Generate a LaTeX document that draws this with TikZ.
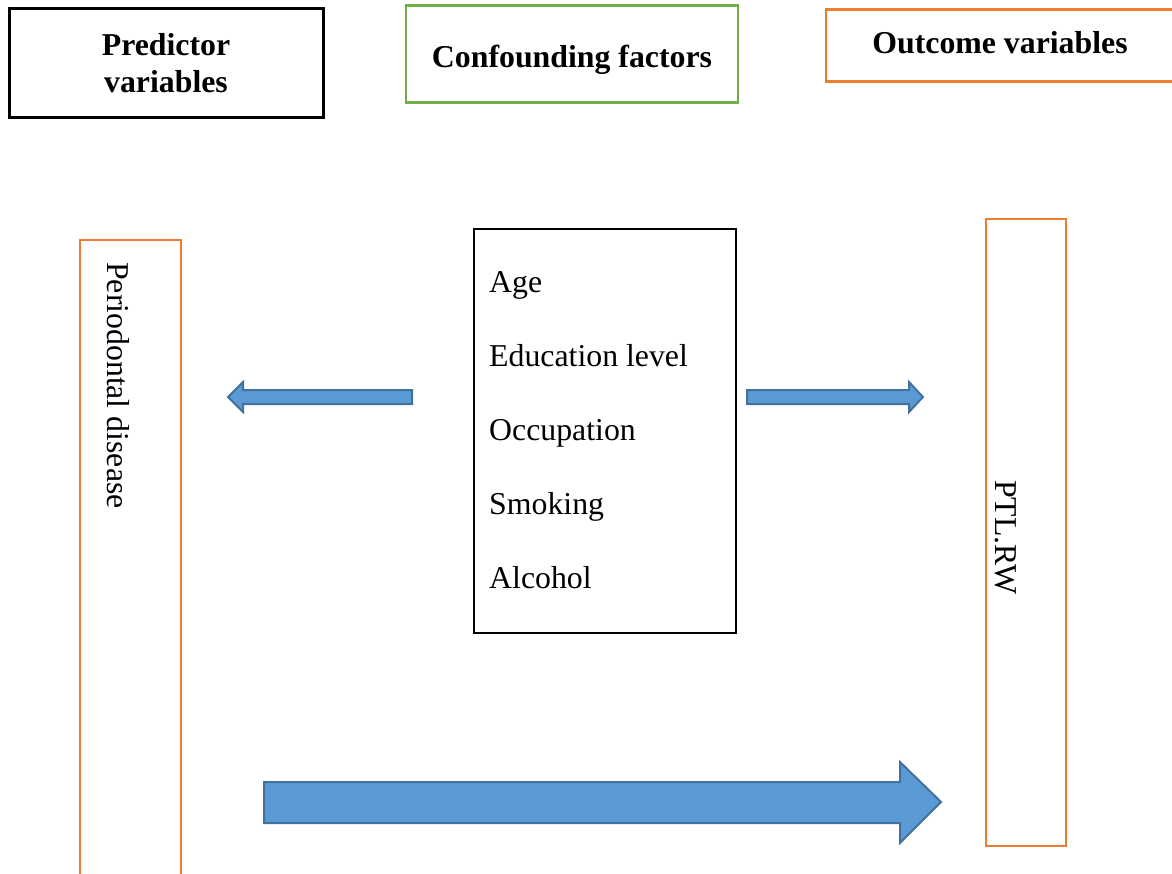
\documentclass[tikz,border=0pt]{standalone}
\usepackage{fontspec}
\setmainfont{Liberation Serif}
\definecolor{boxgreen}{HTML}{70AD47}
\definecolor{boxorange}{HTML}{ED7D31}
\definecolor{arrfill}{HTML}{5B9BD5}
\definecolor{arrline}{HTML}{41719C}
\begin{document}
\begin{tikzpicture}[x=1pt,y=-1pt,
  box/.style={draw, line width=2.5pt, inner sep=0pt},
  lbl/.style={inner sep=0pt, font=\fontsize{31.8}{38}\selectfont},
  hdr/.style={inner sep=0pt, font=\fontsize{31.8}{38}\selectfont\bfseries},
  blockarrow/.style={fill=arrfill, draw=arrline, line width=2pt, line join=miter}]
\useasboundingbox (0,0) rectangle (1172,873);
\clip (0,0) rectangle (1172,873);
% header boxes
\node[box, line width=3pt, minimum width=314pt, minimum height=109pt] (pred) at (166,62.5) {};
\node[hdr, anchor=base] (predt1) at (166,55) {Predictor};
\node[hdr, anchor=base] (predt2) at (166,92) {variables};
\node[box, draw=boxgreen, minimum width=332pt, minimum height=97pt] (conf) at (572,54) {};
\node[hdr, anchor=base] (conft) at (572,67) {Confounding factors};
\node[box, draw=boxorange, minimum width=374pt, minimum height=72pt] (outc) at (1013,45.5) {};
\node[hdr, anchor=base] (outct) at (1000,53) {Outcome variables};
% left tall box
\node[box, draw=boxorange, minimum width=101pt, minimum height=660pt] (perio) at (130.5,570) {};
\node[lbl, rotate=-90, anchor=base west] (periot) at (107,262) {Periodontal disease};
% right tall box
\node[box, draw=boxorange, minimum width=80pt, minimum height=627pt] (ptl) at (1026,532.5) {};
\node[lbl, rotate=-90, anchor=base west] (ptlt) at (995,480) {PTL.RW};
% middle box
\node[box, line width=2pt, minimum width=262pt, minimum height=404pt] (conf2) at (605,431) {};
\node[lbl, anchor=base west] (age) at (489,292) {Age};
\node[lbl, anchor=base west] (edu) at (489,366) {Education level};
\node[lbl, anchor=base west] (occ) at (489,440) {Occupation};
\node[lbl, anchor=base west] (smk) at (489,514) {Smoking};
\node[lbl, anchor=base west] (alc) at (489,588) {Alcohol};
% block arrows
\draw[blockarrow] (412,390) -- (243,390) -- (243,382) -- (228,397) -- (243,412) -- (243,404) -- (412,404) -- cycle;
\draw[blockarrow] (747,390) -- (909,390) -- (909,382) -- (923,397) -- (909,412) -- (909,404) -- (747,404) -- cycle;
\draw[blockarrow] (264,782) -- (900,782) -- (900,762) -- (941,802) -- (900,843) -- (900,823) -- (264,823) -- cycle;
\end{tikzpicture}
\end{document}
